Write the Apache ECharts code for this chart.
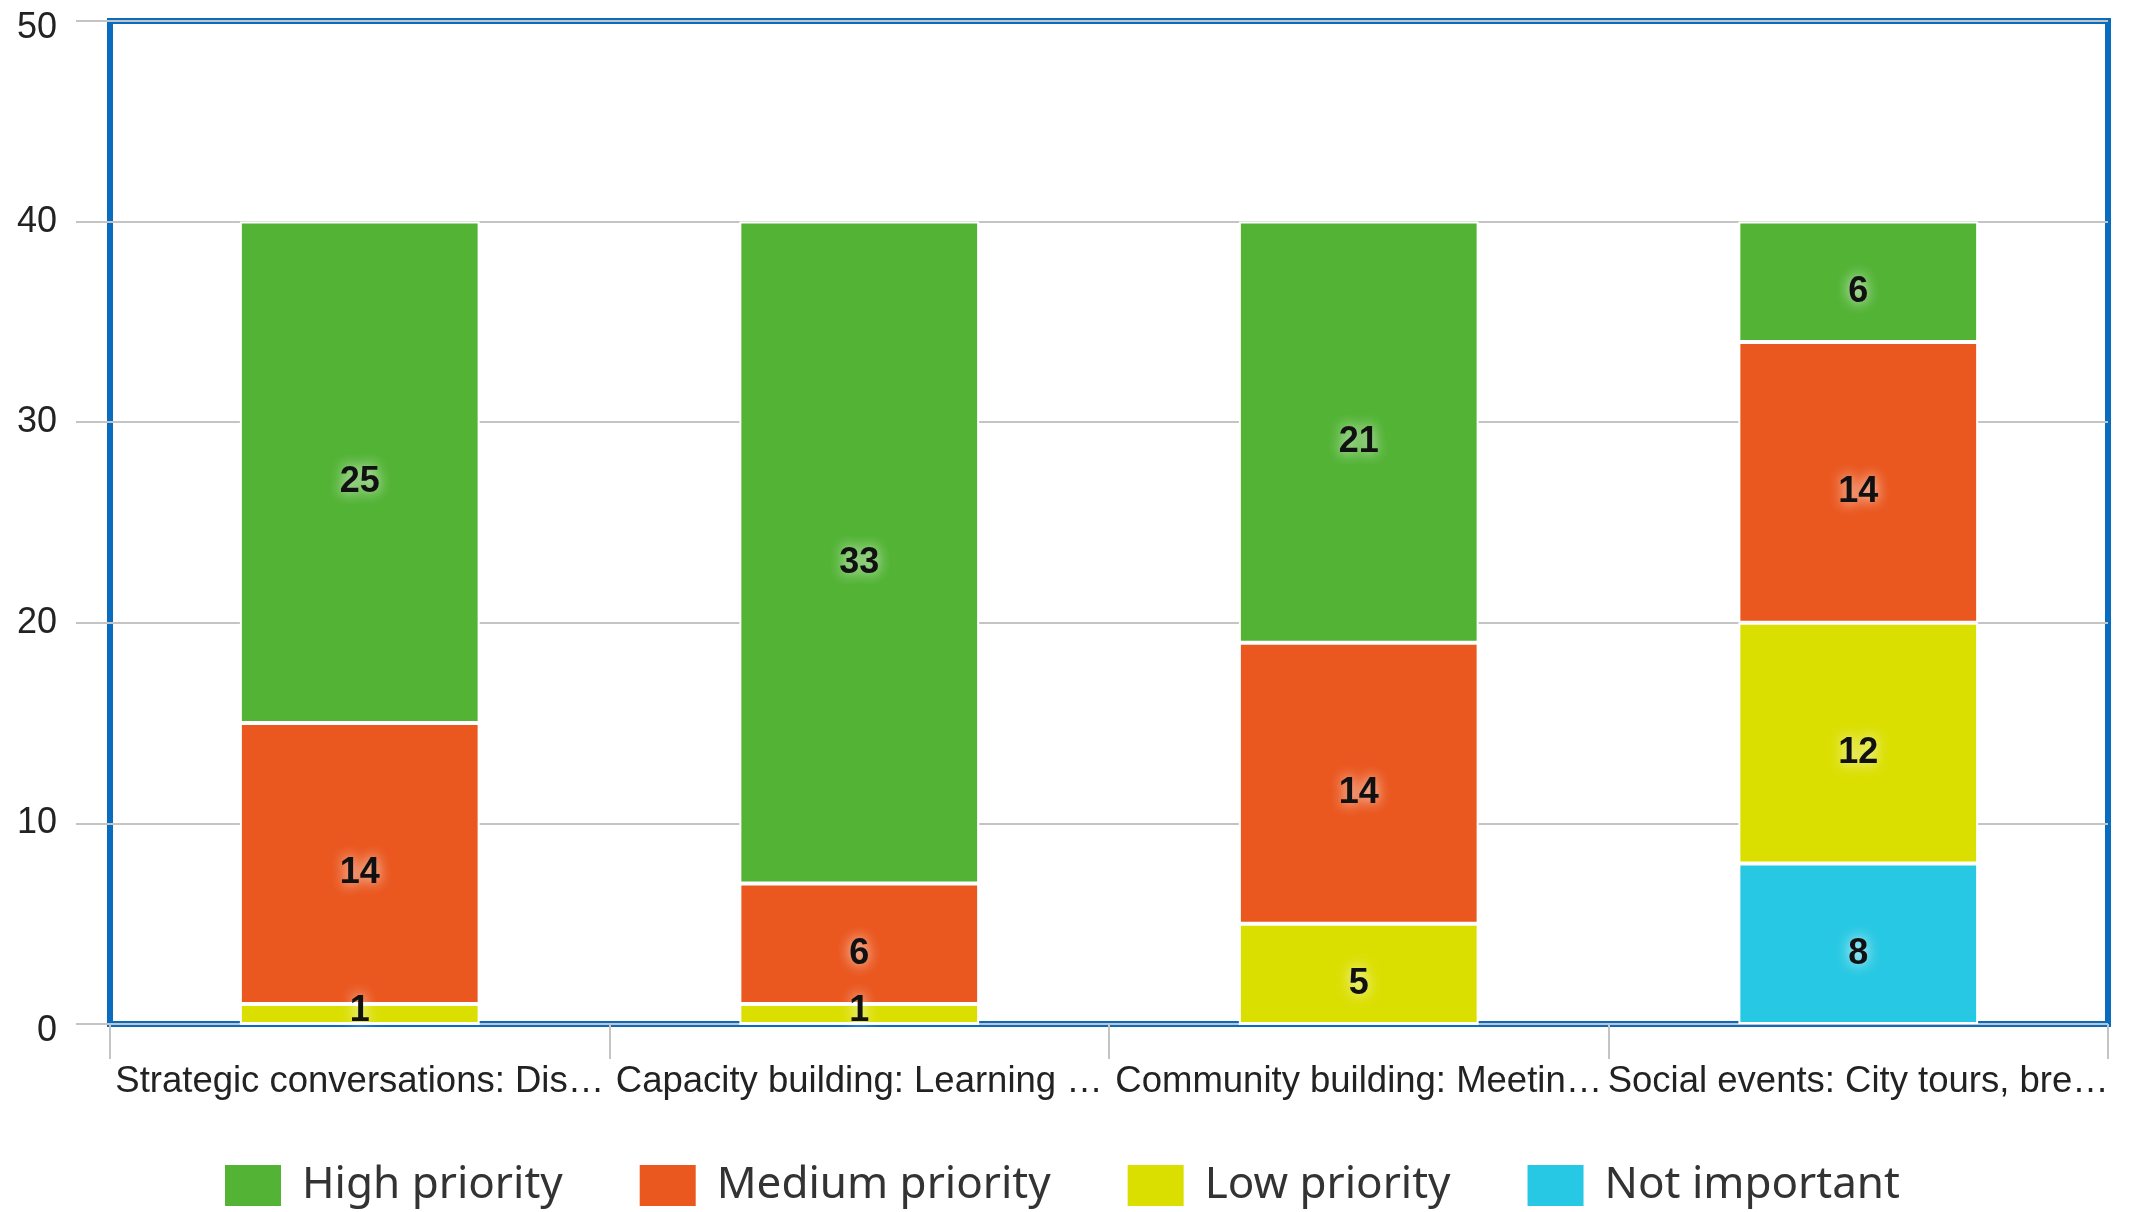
<!DOCTYPE html>
<html>
<head>
<meta charset="utf-8">
<style>
  html, body { margin: 0; padding: 0; background: #fff; }
  #chart { width: 2132px; height: 1212px; }
</style>
<script src="https://cdn.jsdelivr.net/npm/echarts@6/dist/echarts.min.js"></script>
</head>
<body>
<div id="chart"></div>
<script>
  // categories as they appear (already cut off in the source picture)
  const categories = [
    'Strategic conversations: Dis…',
    'Capacity building: Learning …',
    'Community building: Meetin…',
    'Social events: City tours, bre…'
  ]
  const highPriority = [25, 33, 21, 6]
  const mediumPriority = [14, 6, 14, 14]
  const lowPriority = [1, 1, 5, 12]
  const notImportant = [0, 0, 0, 8]
  const yTicks = [0, 10, 20, 30, 40, 50]

  const colors = {
    high: '#52b335',
    medium: '#ea571f',
    low: '#dbdf00',
    not: '#27c8e3'
  }

  const chart = echarts.init(document.getElementById('chart'))

  // thin segments get their label nudged up so it isn't pushed onto the axis
  const toItems = data => data.map(v => (v > 0 && v < 2 ? { value: v, label: { offset: [0, -3] } } : v))

  const makeSeries = (name, data, color) => ({
    name: name,
    type: 'bar',
    stack: 'total',
    barWidth: '48%',
    data: toItems(data),
    itemStyle: {
      color: color,
      borderColor: '#fff',
      borderWidth: 2
    },
    label: {
      show: true,
      position: 'inside',
      offset: [0, 10],
      color: '#111',
      fontFamily: 'Liberation Sans',
      fontWeight: 'bold',
      fontSize: 36,
      textShadowColor: 'rgba(255,255,255,0.95)',
      textShadowBlur: 14,
      formatter: p => (p.value ? String(p.value) : '')
    }
  })

  chart.setOption({
    animation: false,
    backgroundColor: '#fff',
    grid: {
      left: 110,
      right: 24,
      top: 21,
      bottom: 188,
      show: true,
      borderColor: '#0a6cbf',
      borderWidth: 6,
      backgroundColor: 'transparent'
    },
    legend: {
      left: 223,
      top: 1163,
      padding: 0,
      itemWidth: 58,
      itemHeight: 43,
      itemGap: 75,
      icon: 'rect',
      data: ['High priority', 'Medium priority', 'Low priority', 'Not important'],
      textStyle: {
        fontFamily: 'Noto Sans',
        fontSize: 44,
        color: '#333',
        padding: [10, 0, 0, 15]
      }
    },
    xAxis: {
      type: 'category',
      data: categories,
      axisLine: { show: false },
      axisTick: {
        show: true,
        length: 35,
        lineStyle: { color: '#c4c4c4', width: 2 }
      },
      axisLabel: {
        interval: 0,
        margin: 39,
        fontFamily: 'Liberation Sans',
        fontSize: 36.5,
        color: '#222'
      }
    },
    yAxis: {
      type: 'value',
      min: yTicks[0],
      max: yTicks[yTicks.length - 1],
      interval: 10,
      axisLine: { show: false },
      axisTick: {
        show: true,
        length: 34,
        lineStyle: { color: '#c4c4c4', width: 2 }
      },
      splitLine: {
        lineStyle: { color: '#c4c4c4', width: 2 }
      },
      axisLabel: {
        margin: 53,
        fontFamily: 'Liberation Sans',
        fontSize: 36,
        color: '#222',
        // the end labels sit a little lower than their grid lines
        formatter: v => (v === yTicks[0] || v === yTicks[yTicks.length - 1] ? '{low|' + v + '}' : String(v)),
        rich: {
          low: {
            fontFamily: 'Liberation Sans',
            fontSize: 36,
            color: '#222',
            padding: [14, 0, 0, 0]
          }
        }
      }
    },
    series: [
      makeSeries('Not important', notImportant, colors.not),
      makeSeries('Low priority', lowPriority, colors.low),
      makeSeries('Medium priority', mediumPriority, colors.medium),
      makeSeries('High priority', highPriority, colors.high)
    ]
  })
</script>
</body>
</html>
